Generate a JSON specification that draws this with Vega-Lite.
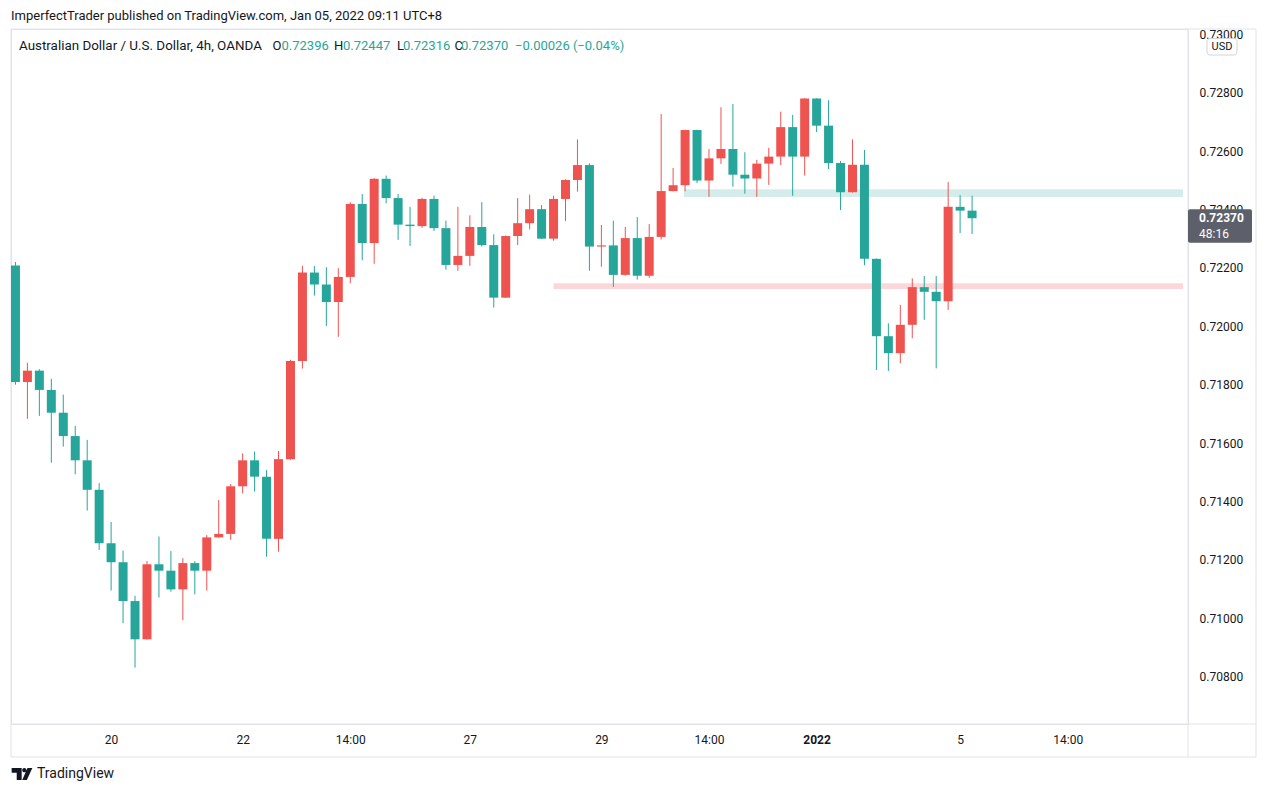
{
  "$schema": "https://vega.github.io/schema/vega-lite/v6.json",
  "width": 1177,
  "height": 695,
  "autosize": "none",
  "padding": {"left": 11, "top": 29, "right": 80, "bottom": 69},
  "background": "#ffffff",
  "config": {"font": "Roboto", "view": {"stroke": "#e0e3eb", "strokeWidth": 1}},
  "datasets": {
    "candles": [
      {"n": 1, "open": 0.72208, "high": 0.7222, "low": 0.718, "close": 0.71809},
      {"n": 2, "open": 0.71809, "high": 0.71875, "low": 0.71683, "close": 0.71848},
      {"n": 3, "open": 0.71848, "high": 0.71853, "low": 0.71693, "close": 0.71782},
      {"n": 4, "open": 0.71782, "high": 0.7182, "low": 0.71533, "close": 0.71704},
      {"n": 5, "open": 0.71704, "high": 0.71766, "low": 0.71588, "close": 0.71624},
      {"n": 6, "open": 0.71624, "high": 0.71659, "low": 0.71493, "close": 0.71541},
      {"n": 7, "open": 0.71541, "high": 0.71611, "low": 0.71369, "close": 0.7144},
      {"n": 8, "open": 0.7144, "high": 0.71463, "low": 0.71234, "close": 0.71257},
      {"n": 9, "open": 0.71257, "high": 0.7133, "low": 0.71095, "close": 0.71192},
      {"n": 10, "open": 0.71192, "high": 0.71232, "low": 0.70983, "close": 0.71059},
      {"n": 11, "open": 0.71059, "high": 0.71077, "low": 0.70831, "close": 0.70928},
      {"n": 12, "open": 0.70928, "high": 0.71196, "low": 0.70927, "close": 0.71185},
      {"n": 13, "open": 0.71185, "high": 0.7128, "low": 0.71071, "close": 0.71163},
      {"n": 14, "open": 0.71163, "high": 0.7123, "low": 0.71091, "close": 0.71099},
      {"n": 15, "open": 0.71099, "high": 0.71206, "low": 0.70993, "close": 0.71189},
      {"n": 16, "open": 0.71189, "high": 0.71196, "low": 0.71082, "close": 0.71163},
      {"n": 17, "open": 0.71163, "high": 0.71285, "low": 0.71095, "close": 0.71277},
      {"n": 18, "open": 0.71277, "high": 0.71405, "low": 0.71276, "close": 0.71289},
      {"n": 19, "open": 0.71289, "high": 0.7146, "low": 0.71269, "close": 0.71452},
      {"n": 20, "open": 0.71452, "high": 0.71565, "low": 0.71428, "close": 0.71541},
      {"n": 21, "open": 0.71541, "high": 0.71571, "low": 0.71434, "close": 0.71485},
      {"n": 22, "open": 0.71485, "high": 0.71508, "low": 0.71211, "close": 0.71272},
      {"n": 23, "open": 0.71272, "high": 0.71573, "low": 0.71228, "close": 0.71545},
      {"n": 24, "open": 0.71545, "high": 0.71885, "low": 0.71543, "close": 0.71881},
      {"n": 25, "open": 0.71881, "high": 0.72207, "low": 0.71855, "close": 0.72184},
      {"n": 26, "open": 0.72184, "high": 0.72206, "low": 0.72105, "close": 0.72143},
      {"n": 27, "open": 0.72143, "high": 0.72202, "low": 0.72001, "close": 0.72083},
      {"n": 28, "open": 0.72083, "high": 0.72199, "low": 0.71964, "close": 0.72169},
      {"n": 29, "open": 0.72169, "high": 0.72425, "low": 0.72147, "close": 0.72419},
      {"n": 30, "open": 0.72419, "high": 0.72453, "low": 0.72226, "close": 0.72285},
      {"n": 31, "open": 0.72285, "high": 0.72507, "low": 0.72214, "close": 0.72505},
      {"n": 32, "open": 0.72505, "high": 0.72516, "low": 0.72421, "close": 0.72439},
      {"n": 33, "open": 0.72439, "high": 0.72453, "low": 0.72296, "close": 0.72348},
      {"n": 34, "open": 0.72348, "high": 0.72409, "low": 0.72275, "close": 0.72343},
      {"n": 35, "open": 0.72343, "high": 0.7244, "low": 0.72337, "close": 0.72436},
      {"n": 36, "open": 0.72436, "high": 0.72447, "low": 0.72326, "close": 0.72336},
      {"n": 37, "open": 0.72336, "high": 0.72362, "low": 0.72194, "close": 0.7221},
      {"n": 38, "open": 0.7221, "high": 0.72409, "low": 0.7219, "close": 0.72241},
      {"n": 39, "open": 0.72241, "high": 0.7238, "low": 0.72207, "close": 0.7234},
      {"n": 40, "open": 0.7234, "high": 0.72425, "low": 0.72273, "close": 0.72278},
      {"n": 41, "open": 0.72278, "high": 0.72315, "low": 0.72064, "close": 0.72098},
      {"n": 42, "open": 0.72098, "high": 0.72311, "low": 0.72097, "close": 0.72309},
      {"n": 43, "open": 0.72309, "high": 0.72439, "low": 0.72278, "close": 0.72353},
      {"n": 44, "open": 0.72353, "high": 0.72451, "low": 0.72332, "close": 0.72401},
      {"n": 45, "open": 0.72401, "high": 0.72415, "low": 0.72299, "close": 0.723},
      {"n": 46, "open": 0.723, "high": 0.72447, "low": 0.72293, "close": 0.72436},
      {"n": 47, "open": 0.72436, "high": 0.72503, "low": 0.7236, "close": 0.72501},
      {"n": 48, "open": 0.72501, "high": 0.7264, "low": 0.72461, "close": 0.72552},
      {"n": 49, "open": 0.72552, "high": 0.72558, "low": 0.7219, "close": 0.72273},
      {"n": 50, "open": 0.72273, "high": 0.72347, "low": 0.72204, "close": 0.72277},
      {"n": 51, "open": 0.72277, "high": 0.72362, "low": 0.72135, "close": 0.72176},
      {"n": 52, "open": 0.72176, "high": 0.7234, "low": 0.72173, "close": 0.72302},
      {"n": 53, "open": 0.72302, "high": 0.72374, "low": 0.7216, "close": 0.72173},
      {"n": 54, "open": 0.72173, "high": 0.7235, "low": 0.72166, "close": 0.72306},
      {"n": 55, "open": 0.72306, "high": 0.72727, "low": 0.72297, "close": 0.72463},
      {"n": 56, "open": 0.72463, "high": 0.72542, "low": 0.72462, "close": 0.72483},
      {"n": 57, "open": 0.72483, "high": 0.72673, "low": 0.72462, "close": 0.72672},
      {"n": 58, "open": 0.72672, "high": 0.72673, "low": 0.7249, "close": 0.72499},
      {"n": 59, "open": 0.72499, "high": 0.72607, "low": 0.72443, "close": 0.72575},
      {"n": 60, "open": 0.72575, "high": 0.7275, "low": 0.72556, "close": 0.72607},
      {"n": 61, "open": 0.72607, "high": 0.72761, "low": 0.72478, "close": 0.72519},
      {"n": 62, "open": 0.72519, "high": 0.72596, "low": 0.72454, "close": 0.72506},
      {"n": 63, "open": 0.72506, "high": 0.7257, "low": 0.72443, "close": 0.72557},
      {"n": 64, "open": 0.72557, "high": 0.72611, "low": 0.72484, "close": 0.72581},
      {"n": 65, "open": 0.72581, "high": 0.72735, "low": 0.72552, "close": 0.72682},
      {"n": 66, "open": 0.72682, "high": 0.72724, "low": 0.72447, "close": 0.72581},
      {"n": 67, "open": 0.72581, "high": 0.72781, "low": 0.72516, "close": 0.7278},
      {"n": 68, "open": 0.7278, "high": 0.72781, "low": 0.72665, "close": 0.72687},
      {"n": 69, "open": 0.72687, "high": 0.72774, "low": 0.72538, "close": 0.72559},
      {"n": 70, "open": 0.72559, "high": 0.72566, "low": 0.72398, "close": 0.72459},
      {"n": 71, "open": 0.72459, "high": 0.7264, "low": 0.72458, "close": 0.72553},
      {"n": 72, "open": 0.72553, "high": 0.72604, "low": 0.72209, "close": 0.72231},
      {"n": 73, "open": 0.72231, "high": 0.72232, "low": 0.7185, "close": 0.71966},
      {"n": 74, "open": 0.71966, "high": 0.7201, "low": 0.71847, "close": 0.71908},
      {"n": 75, "open": 0.71908, "high": 0.72073, "low": 0.71873, "close": 0.72005},
      {"n": 76, "open": 0.72005, "high": 0.72164, "low": 0.71959, "close": 0.72134},
      {"n": 77, "open": 0.72134, "high": 0.72172, "low": 0.72022, "close": 0.72118},
      {"n": 78, "open": 0.72118, "high": 0.72172, "low": 0.71856, "close": 0.72086},
      {"n": 79, "open": 0.72086, "high": 0.72494, "low": 0.72056, "close": 0.72409},
      {"n": 80, "open": 0.72409, "high": 0.72449, "low": 0.72319, "close": 0.72396},
      {"n": 81, "open": 0.72396, "high": 0.72447, "low": 0.72316, "close": 0.7237}
    ],
    "zones": [
      {"zone": "resistance", "n": 56.9, "n_end": 98.64, "low": 0.72443, "high": 0.72469},
      {"zone": "support", "n": 46, "n_end": 98.64, "low": 0.72128, "high": 0.72147}
    ]
  },
  "data": {"name": "candles"},
  "encoding": {
    "x": {
      "field": "n",
      "type": "quantitative",
      "title": null,
      "scale": {"domain": [1.046, 98.64], "nice": false, "zero": false},
      "axis": {
        "orient": "bottom",
        "values": [9, 20, 29, 39, 50, 59, 68, 80, 89],
        "labelExpr": "datum.value == 9 ? '20' : datum.value == 20 ? '22' : datum.value == 29 ? '14:00' : datum.value == 39 ? '27' : datum.value == 50 ? '29' : datum.value == 59 ? '14:00' : datum.value == 68 ? '2022' : datum.value == 80 ? '5' : '14:00'",
        "domain": false,
        "ticks": false,
        "grid": false,
        "labelPadding": 10,
        "labelFont": "Roboto",
        "labelFontSize": 12,
        "labelColor": "#131722",
        "labelFontWeight": {"condition": {"test": "datum.value == 68", "value": "bold"}, "value": "normal"},
        "labelFlush": false,
        "labelOverlap": false
      }
    }
  },
  "layer": [
    {
      "data": {"values": [{}]},
      "mark": {"type": "rect", "fill": "transparent", "stroke": "#e0e3eb", "strokeWidth": 1},
      "encoding": {"x": {"value": 0}, "x2": {"value": 1245}, "y": {"value": 0}, "y2": {"value": 728}}
    },
    {
      "data": {"values": [{}]},
      "mark": {"type": "rule", "color": "#e0e3eb", "strokeWidth": 1},
      "encoding": {"x": {"value": 1177}, "y": {"value": 0}, "y2": {"value": 728}}
    },
    {
      "data": {"values": [{}]},
      "mark": {"type": "rule", "color": "#e0e3eb", "strokeWidth": 1},
      "encoding": {"x": {"value": 0}, "x2": {"value": 1245}, "y": {"value": 695}}
    },
    {
      "data": {"name": "zones"},
      "mark": {"type": "rect", "clip": true, "opacity": 0.2},
      "encoding": {
        "x2": {"field": "n_end"},
        "y": {"field": "low", "type": "quantitative", "title": null},
        "y2": {"field": "high"},
        "color": {"condition": {"test": "datum.zone == 'resistance'", "value": "#26a69a"}, "value": "#f23645"}
      }
    },
    {
      "mark": {"type": "rule", "clip": true, "strokeWidth": 1},
      "encoding": {
        "y": {
          "field": "low",
          "type": "quantitative",
          "title": null,
          "scale": {"domain": [0.70638, 0.73018], "nice": false, "zero": false},
          "axis": {
            "orient": "right",
            "values": [0.708, 0.71, 0.712, 0.714, 0.716, 0.718, 0.72, 0.722, 0.724, 0.726, 0.728, 0.73],
            "format": ".5f",
            "domain": false,
            "ticks": false,
            "grid": false,
            "labelPadding": 11,
            "labelFont": "Roboto",
            "labelFontSize": 12,
            "labelColor": "#131722",
            "labelFlush": false,
            "labelOverlap": false
          }
        },
        "y2": {"field": "high"},
        "color": {"condition": {"test": "datum.close < datum.open", "value": "#26a69a"}, "value": "#ef5350"}
      }
    },
    {
      "mark": {"type": "bar", "clip": true, "size": 9},
      "encoding": {
        "y": {"field": "open", "type": "quantitative", "title": null},
        "y2": {"field": "close"},
        "color": {"condition": {"test": "datum.close < datum.open", "value": "#26a69a"}, "value": "#ef5350"}
      }
    },
    {
      "data": {"values": [{}]},
      "mark": {"type": "text", "align": "left", "baseline": "middle", "fontSize": 13, "color": "#131722"},
      "encoding": {"x": {"value": 0}, "y": {"value": -13}, "text": {"value": "ImperfectTrader published on TradingView.com, Jan 05, 2022 09:11 UTC+8"}}
    },
    {
      "data": {"values": [{}]},
      "mark": {"type": "text", "align": "left", "baseline": "middle", "fontSize": 13.4, "color": "#131722"},
      "encoding": {"x": {"value": 8}, "y": {"value": 17}, "text": {"value": "Australian Dollar / U.S. Dollar, 4h, OANDA"}}
    },
    {
      "data": {"values": [{"k": "O", "x": 261.5}, {"k": "H", "x": 323}, {"k": "L", "x": 386}, {"k": "C", "x": 443.5}]},
      "mark": {"type": "text", "align": "left", "baseline": "middle", "fontSize": 13, "color": "#131722"},
      "encoding": {"x": {"field": "x", "type": "quantitative", "scale": null}, "y": {"value": 17}, "text": {"field": "k"}}
    },
    {
      "transform": [{"filter": "datum.n == 81"}],
      "mark": {"type": "text", "align": "left", "baseline": "middle", "fontSize": 13, "color": "#26a69a"},
      "encoding": {"x": {"value": 270.5}, "y": {"value": 17}, "text": {"field": "open", "format": ".5f"}}
    },
    {
      "transform": [{"filter": "datum.n == 81"}],
      "mark": {"type": "text", "align": "left", "baseline": "middle", "fontSize": 13, "color": "#26a69a"},
      "encoding": {"x": {"value": 332}, "y": {"value": 17}, "text": {"field": "high", "format": ".5f"}}
    },
    {
      "transform": [{"filter": "datum.n == 81"}],
      "mark": {"type": "text", "align": "left", "baseline": "middle", "fontSize": 13, "color": "#26a69a"},
      "encoding": {"x": {"value": 392}, "y": {"value": 17}, "text": {"field": "low", "format": ".5f"}}
    },
    {
      "transform": [{"filter": "datum.n == 81"}],
      "mark": {"type": "text", "align": "left", "baseline": "middle", "fontSize": 13, "color": "#26a69a"},
      "encoding": {"x": {"value": 450}, "y": {"value": 17}, "text": {"field": "close", "format": ".5f"}}
    },
    {
      "data": {"values": [{}]},
      "mark": {"type": "text", "align": "left", "baseline": "middle", "fontSize": 13, "color": "#26a69a"},
      "encoding": {"x": {"value": 504}, "y": {"value": 17}, "text": {"value": "−0.00026 (−0.04%)"}}
    },
    {
      "transform": [{"filter": "datum.n == 81"}],
      "mark": {"type": "rect", "color": "#5d606b", "yOffset": -9, "y2Offset": 24.5, "cornerRadius": 2},
      "encoding": {"x": {"value": 1177}, "x2": {"value": 1241}, "y": {"field": "close", "type": "quantitative", "title": null}, "y2": {"field": "close"}}
    },
    {
      "transform": [{"filter": "datum.n == 81"}],
      "mark": {"type": "text", "align": "left", "baseline": "middle", "fontSize": 12, "fontWeight": "bold", "color": "#ffffff"},
      "encoding": {"x": {"value": 1188}, "y": {"field": "close", "type": "quantitative", "title": null}, "text": {"field": "close", "format": ".5f"}}
    },
    {
      "transform": [{"filter": "datum.n == 81"}],
      "mark": {"type": "text", "align": "left", "baseline": "middle", "fontSize": 12, "color": "#ffffff", "yOffset": 16},
      "encoding": {"x": {"value": 1188}, "y": {"field": "close", "type": "quantitative", "title": null}, "text": {"value": "48:16"}}
    },
    {
      "data": {"values": [{}]},
      "mark": {"type": "rect", "fill": "#ffffff", "stroke": "#d1d4dc", "strokeWidth": 1, "cornerRadius": 3},
      "encoding": {"x": {"value": 1196}, "x2": {"value": 1226}, "y": {"value": 9.5}, "y2": {"value": 26}}
    },
    {
      "data": {"values": [{}]},
      "mark": {"type": "text", "align": "center", "baseline": "middle", "fontSize": 11, "color": "#131722"},
      "encoding": {"x": {"value": 1211}, "y": {"value": 18}, "text": {"value": "USD"}}
    },
    {
      "data": {"values": [{}]},
      "mark": {"type": "point", "shape": "M -0.94 -0.55 H -0.03 V 0.55 H -0.48 V -0.12 H -0.94 Z M 0.02 -0.35 A 0.19 0.19 0 1 0 0.40 -0.35 A 0.19 0.19 0 1 0 0.02 -0.35 Z M 0.50 -0.55 H 0.94 L 0.44 0.55 H 0.02 Z", "size": 484, "filled": true, "color": "#131722", "opacity": 1, "strokeWidth": 0},
      "encoding": {"x": {"value": 11}, "y": {"value": 745}}
    },
    {
      "data": {"values": [{}]},
      "mark": {"type": "text", "align": "left", "baseline": "middle", "fontSize": 14, "color": "#131722"},
      "encoding": {"x": {"value": 26}, "y": {"value": 745}, "text": {"value": "TradingView"}}
    }
  ]
}
